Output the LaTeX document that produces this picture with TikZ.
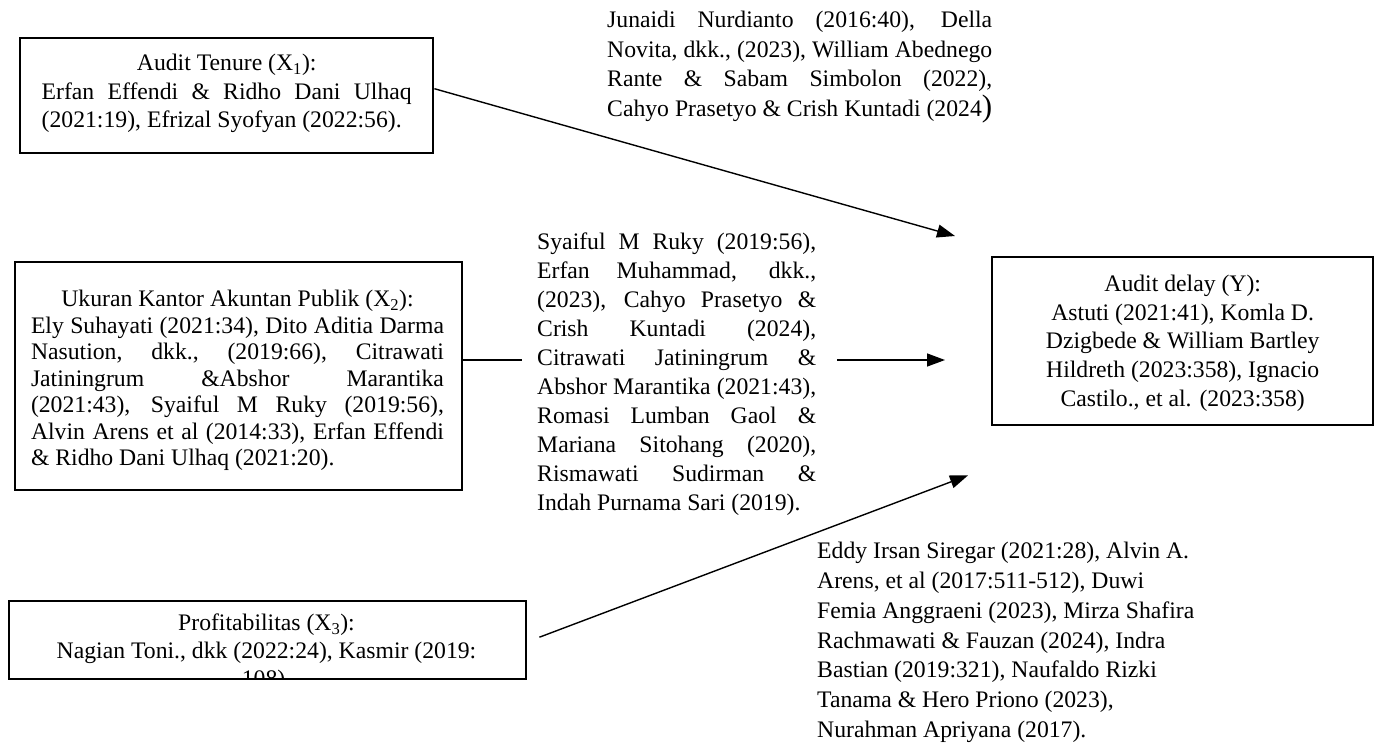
\documentclass[tikz,border=0pt]{standalone}
\usepackage{fontspec}
\setmainfont{Liberation Serif}
\usetikzlibrary{arrows.meta,calc}
\newcommand\jline[2]{\makebox[#1][s]{#2}}
\newcommand\lline[2]{\makebox[#1][l]{#2}}
\begin{document}
\begin{tikzpicture}[x=1pt,y=-1pt,
  box/.style={draw,line width=2.4pt,inner sep=0pt,anchor=north west},
  txt/.style={inner sep=0pt,align=center,font=\fontsize{23.7}{#1}\selectfont},
  txt/.default=28.5,
  conn/.style={line width=1.4pt},
  arr/.style={conn,-{Triangle[length=18pt,width=13pt]}}]
\useasboundingbox (0,0) rectangle (1374,745);

% boxes
\node[box,minimum width=413pt,minimum height=115pt] (x1) at (19,37) {};
\node[box,minimum width=447pt,minimum height=228pt] (x2) at (14,261) {};
\node[box,minimum width=381pt,minimum height=168pt] (yb) at (991,256) {};

% X1 text
\node[txt] (x1t) at ($(x1.center)+(0,-2)$) {Audit Tenure (X\textsubscript{1}):\\
\jline{370pt}{Erfan Effendi \& Ridho Dani Ulhaq}\\
\lline{370pt}{(2021:19), Efrizal Syofyan (2022:56).}};

% X2 text
\node[txt=26.5] (x2t) at (237.5,380.5) {Ukuran Kantor Akuntan Publik (X\textsubscript{2}):\\
\jline{413pt}{Ely Suhayati (2021:34), Dito Aditia Darma}\\
\jline{413pt}{Nasution, dkk., (2019:66), Citrawati}\\
\jline{413pt}{Jatiningrum \&Abshor Marantika}\\
\jline{413pt}{(2021:43), Syaiful M Ruky (2019:56),}\\
\jline{413pt}{Alvin Arens et al (2014:33), Erfan Effendi}\\
\lline{413pt}{\& Ridho Dani Ulhaq (2021:20).}};

% Y text
\node[txt=28.7] (ybt) at ($(yb.center)+(0,2)$) {Audit delay (Y):\\
Astuti (2021:41), Komla D.\\
Dzigbede \& William Bartley\\
Hildreth (2023:358), Ignacio\\
Castilo., et al. (2023:358)};

% X3 box with clipped text
\path (8,600) coordinate (x3nw) (525,678) coordinate (x3se);
\begin{scope}
\clip (x3nw) rectangle (x3se);
\node[txt=28] (x3t) at (266.5,653) {Profitabilitas (X\textsubscript{3}):\\
Nagian Toni., dkk (2022:24), Kasmir (2019:\\
108).};
\end{scope}
\node[box,minimum width=517pt,minimum height=78pt] (x3) at (x3nw) {};

% upper references
\node[txt=29.5,anchor=north west] (up) at (607,11) {%
\jline{385pt}{Junaidi Nurdianto (2016:40), Della}\\
\jline{385pt}{Novita, dkk., (2023), William Abednego}\\
\jline{385pt}{Rante \& Sabam Simbolon (2022),}\\
\jline{385pt}{Cahyo Prasetyo \& Crish Kuntadi (2024{\fontsize{31}{31}\selectfont)}}};

% middle references
\node[txt=29,anchor=north west] (mid) at (537,233) {%
\jline{279pt}{Syaiful M Ruky (2019:56),}\\
\jline{279pt}{Erfan Muhammad, dkk.,}\\
\jline{279pt}{(2023), Cahyo Prasetyo \&}\\
\jline{279pt}{Crish Kuntadi (2024),}\\
\jline{279pt}{Citrawati Jatiningrum \&}\\
\jline{279pt}{Abshor Marantika (2021:43),}\\
\jline{279pt}{Romasi Lumban Gaol \&}\\
\jline{279pt}{Mariana Sitohang (2020),}\\
\jline{279pt}{Rismawati Sudirman \&}\\
\lline{279pt}{Indah Purnama Sari (2019).}};

% lower references
\node[txt=29.8,anchor=north west] (low) at (817,542) {%
\lline{372pt}{Eddy Irsan Siregar (2021:28), Alvin A.}\\
\lline{372pt}{Arens, et al (2017:511-512), Duwi}\\
\lline{372pt}{Femia Anggraeni (2023), Mirza Shafira}\\
\lline{372pt}{Rachmawati \& Fauzan (2024), Indra}\\
\lline{372pt}{Bastian (2019:321), Naufaldo Rizki}\\
\lline{372pt}{Tanama \& Hero Priono (2023),}\\
\lline{372pt}{Nurahman Apriyana (2017).}};

% connectors
\coordinate (t1) at ($(yb.north west)+(-36,-20)$);
\draw[arr] ($(x1.east)+(0,-7)$) -- (t1);

\coordinate (lvl) at (0,360);
\draw[conn] (x2.east |- lvl) -- ($(mid.west |- lvl)+(-15,0)$);
\draw[arr] ($(mid.east |- lvl)+(21,0)$) -- ($(yb.west |- lvl)+(-46,0)$);

\coordinate (s3) at ($(x3.east)+(12,-3)$);
\coordinate (t3) at ($(yb.south west)+(-23,49)$);
\draw[arr] (s3) -- (t3);
\end{tikzpicture}
\end{document}
